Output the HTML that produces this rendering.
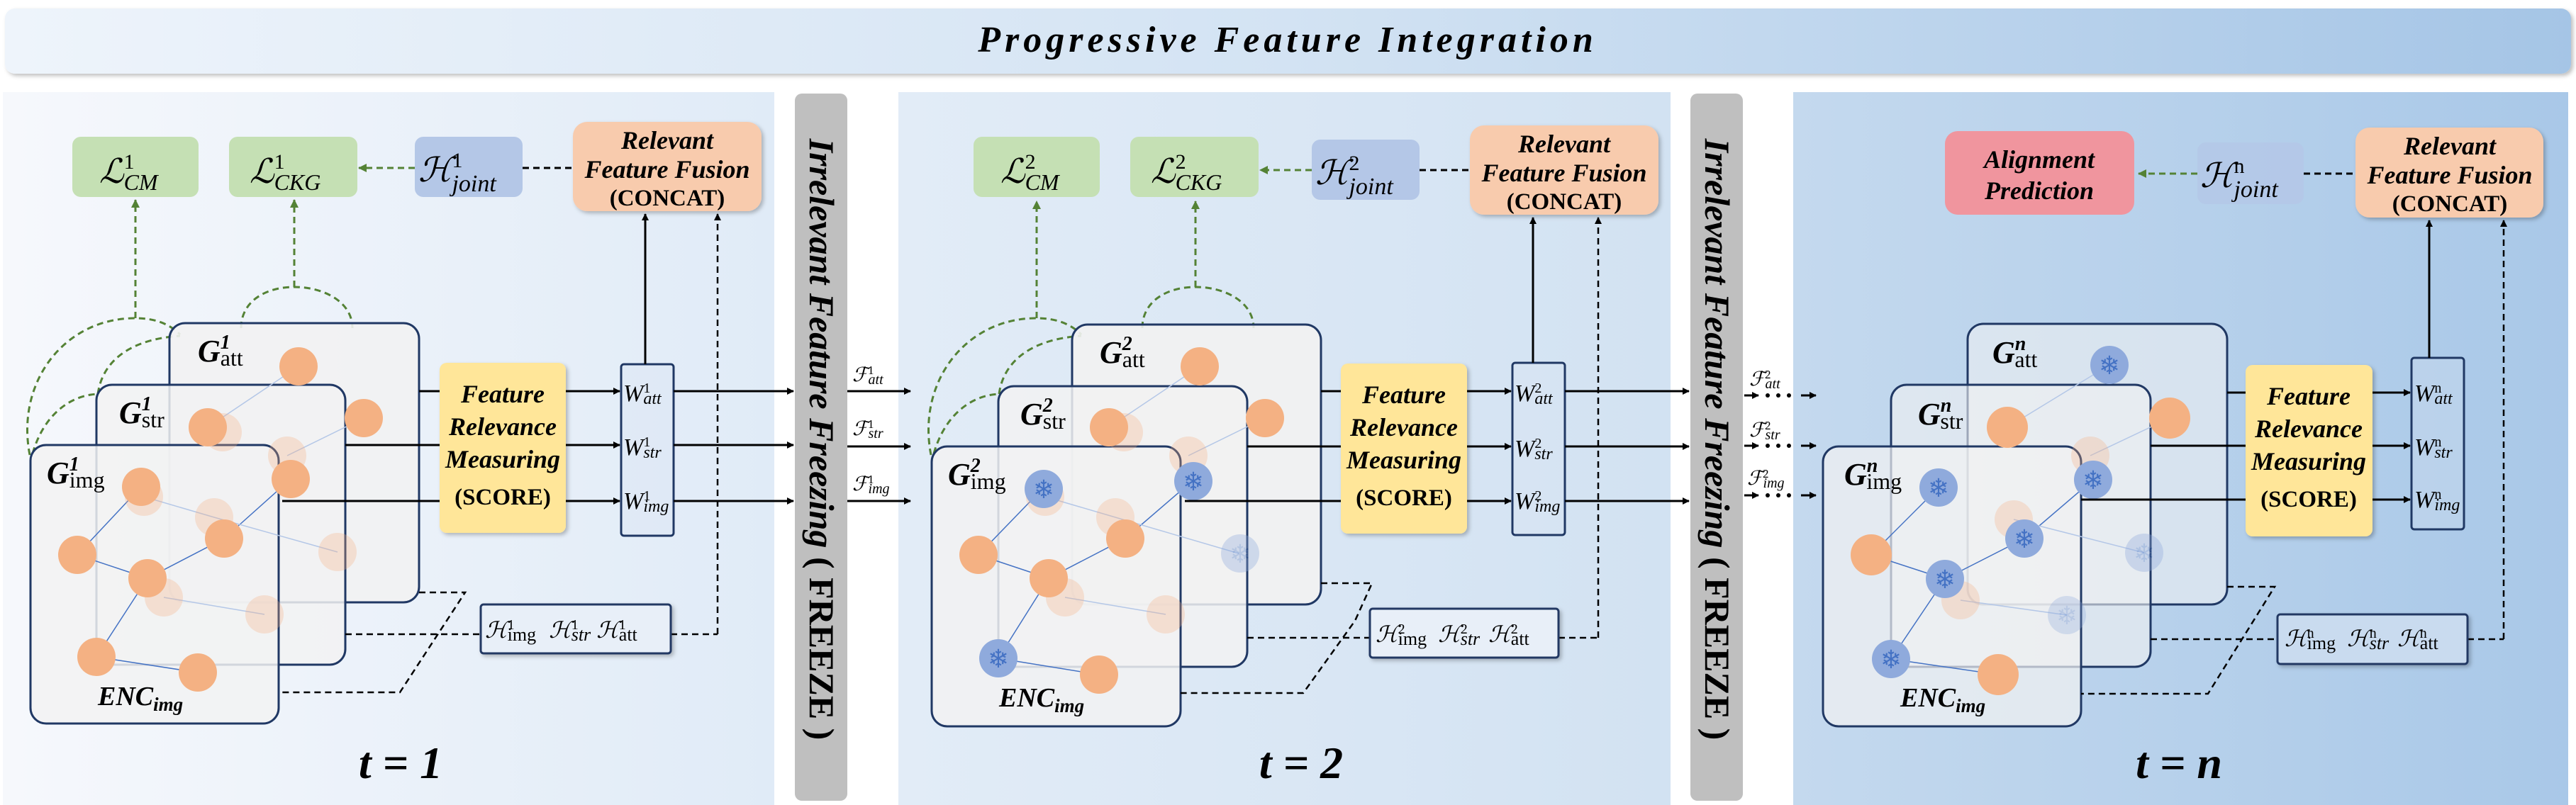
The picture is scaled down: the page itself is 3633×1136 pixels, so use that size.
<!DOCTYPE html>
<html><head><meta charset="utf-8"><style>
html,body{margin:0;padding:0;background:#fff;}
svg{display:block;font-family:"Liberation Serif","DejaVu Serif",serif;}
svg text, svg tspan{font-family:"Liberation Serif","DejaVu Serif",serif;}
.bi{font-weight:bold;font-style:italic;}
.b{font-weight:bold;}
.m{font-style:italic;}
</style></head><body>
<svg width="3633" height="1136" viewBox="0 0 3633 1136" xmlns="http://www.w3.org/2000/svg" font-family="Liberation Serif, DejaVu Serif, serif">
<defs>
<linearGradient id="tg" x1="0" x2="1" y1="0" y2="0"><stop offset="0" stop-color="#eef4fb"/><stop offset="0.5" stop-color="#d3e3f3"/><stop offset="1" stop-color="#a5c5e6"/></linearGradient>
<linearGradient id="p1" x1="0" x2="1"><stop offset="0" stop-color="#f6f8fc"/><stop offset="1" stop-color="#e0ebf7"/></linearGradient>
<linearGradient id="p2" x1="0" x2="1"><stop offset="0" stop-color="#e2ecf7"/><stop offset="1" stop-color="#d2e2f2"/></linearGradient>
<linearGradient id="p3" x1="0" x2="1"><stop offset="0" stop-color="#c4d9ee"/><stop offset="1" stop-color="#a9c8e8"/></linearGradient>
<marker id="ab" markerWidth="10" markerHeight="10" refX="9" refY="5" orient="auto" markerUnits="userSpaceOnUse"><path d="M0,0 L10,5 L0,10 z" fill="#000"/></marker>
<marker id="ag" markerWidth="12" markerHeight="12" refX="11" refY="6" orient="auto" markerUnits="userSpaceOnUse"><path d="M0,0 L12,6 L0,12 z" fill="#548235"/></marker>
<filter id="sh" x="-10%" y="-10%" width="130%" height="130%"><feDropShadow dx="3" dy="3" stdDeviation="3" flood-color="#000" flood-opacity="0.25"/></filter>
<g id="snow"><circle r="27" fill="#8faadc"/><text y="13" text-anchor="middle" font-size="36" fill="#4472c4" style="font-family:'DejaVu Sans',sans-serif">❄</text></g>
</defs>

<rect x="7" y="12" width="3619" height="92" rx="14" fill="url(#tg)" filter="url(#sh)"/>
<text x="1816" y="73" text-anchor="middle" font-size="52" class="bi" letter-spacing="6">Progressive Feature Integration</text>

<rect x="4" y="130" width="1088" height="1006" fill="url(#p1)"/>
<rect x="1267" y="130" width="1089" height="1006" fill="url(#p2)"/>
<rect x="2529" y="130" width="1093" height="1006" fill="url(#p3)"/>

<rect x="1121" y="132" width="74" height="998" rx="10" fill="#bfbfbf"/>
<rect x="2384" y="132" width="74" height="998" rx="10" fill="#bfbfbf"/>
<text transform="translate(1142,620) rotate(90)" text-anchor="middle" font-size="50"><tspan class="bi">Irrelevant Feature Freezing</tspan><tspan class="b"> ( FREEZE )</tspan></text>
<text transform="translate(2405,620) rotate(90)" text-anchor="middle" font-size="50"><tspan class="bi">Irrelevant Feature Freezing</tspan><tspan class="b"> ( FREEZE )</tspan></text>

<!-- PANEL 1 -->
<g>
<rect x="102" y="193" width="178" height="85" rx="12" fill="#c5e0b4"/>
<rect x="323" y="193" width="181" height="85" rx="12" fill="#c5e0b4"/>
<rect x="585" y="193" width="152" height="85" rx="12" fill="#b4c7e7"/>
<rect x="808" y="172" width="266" height="126" rx="20" fill="#f8cbad" filter="url(#sh)"/>
<text x="941" y="210" text-anchor="middle" font-size="36" class="bi">Relevant</text>
<text x="941" y="251" text-anchor="middle" font-size="36" class="bi">Feature Fusion</text>
<text x="941" y="290" text-anchor="middle" font-size="33" class="b">(CONCAT)</text>
<line x1="737" y1="237" x2="808" y2="237" stroke="#000" stroke-width="3" stroke-dasharray="9,6"/>
<line x1="585" y1="237" x2="506" y2="237" stroke="#548235" stroke-width="3" stroke-dasharray="9,6" marker-end="url(#ag)"/>
<line x1="191" y1="449" x2="191" y2="282" stroke="#548235" stroke-width="3" stroke-dasharray="9,6" marker-end="url(#ag)"/>
<line x1="415" y1="405" x2="415" y2="282" stroke="#548235" stroke-width="3" stroke-dasharray="9,6" marker-end="url(#ag)"/>
<g fill="none" stroke="#548235" stroke-width="3" stroke-dasharray="9,6">
<path d="M42,642 C22,540 90,449 191,449 C220,449 240,458 254,472"/>
<path d="M46,640 C60,590 95,558 138,556"/>
<path d="M138,556 C145,505 190,478 254,474"/>
<path d="M340,463 C340,425 375,405 415,405 C455,405 497,425 497,463"/>
</g>
<rect x="239" y="456" width="352" height="394" rx="22" fill="#f2f2f2" fill-opacity="0.9" stroke="#203864" stroke-width="3"/>
<rect x="136" y="543" width="351" height="395" rx="22" fill="#f2f2f2" fill-opacity="0.85" stroke="#203864" stroke-width="3"/>
<rect x="43" y="628" width="350" height="393" rx="22" fill="#f2f2f2" fill-opacity="0.85" stroke="#203864" stroke-width="3"/>
<g stroke="#4472c4" stroke-width="1.5">
<line x1="199" y1="687" x2="109" y2="783"/><line x1="109" y1="783" x2="208" y2="816"/><line x1="208" y1="816" x2="316" y2="760"/><line x1="208" y1="816" x2="136" y2="927"/><line x1="136" y1="927" x2="279" y2="949"/><line x1="316" y1="760" x2="410" y2="676"/>
</g>
<g stroke="#b4c7e7" stroke-width="1.5"><line x1="293" y1="603" x2="421" y2="517"/><line x1="405" y1="643" x2="513" y2="590"/><line x1="231" y1="843" x2="373" y2="867"/><line x1="203" y1="701" x2="302" y2="730"/><line x1="302" y1="730" x2="476" y2="779"/></g>
<g fill="#f4b183" fill-opacity="0.3">
<circle cx="203" cy="701" r="27"/><circle cx="302" cy="730" r="27"/><circle cx="405" cy="643" r="27"/><circle cx="231" cy="843" r="27"/><circle cx="373" cy="867" r="27"/><circle cx="476" cy="779" r="27"/><circle cx="314" cy="610" r="27"/>
</g>
<g fill="#f4b183">
<circle cx="199" cy="687" r="27"/><circle cx="109" cy="783" r="27"/><circle cx="208" cy="816" r="27"/><circle cx="316" cy="760" r="27"/><circle cx="136" cy="927" r="27"/><circle cx="279" cy="949" r="27"/><circle cx="421" cy="517" r="27"/><circle cx="513" cy="590" r="27"/><circle cx="293" cy="603" r="27"/><circle cx="410" cy="676" r="27"/>
</g>
<text x="138" y="995" font-size="38" class="bi">ENC<tspan font-size="27" dy="8">img</tspan></text>
<rect x="620" y="512" width="178" height="240" rx="10" fill="#ffe699" filter="url(#sh)"/>
<text x="709" y="568" text-anchor="middle" font-size="36" class="bi">Feature</text>
<text x="709" y="614" text-anchor="middle" font-size="36" class="bi">Relevance</text>
<text x="709" y="660" text-anchor="middle" font-size="36" class="bi">Measuring</text>
<text x="709" y="712" text-anchor="middle" font-size="33" class="b">(SCORE)</text>
<rect x="876" y="514" width="74" height="242" rx="4" fill="#dae3f3" fill-opacity="0.4" stroke="#203864" stroke-width="3"/>
<g stroke="#000" stroke-width="3">
<line x1="591" y1="552" x2="620" y2="552"/><line x1="487" y1="628" x2="620" y2="628"/><line x1="398" y1="707" x2="620" y2="707"/>
<line x1="798" y1="552" x2="874" y2="552" marker-end="url(#ab)"/><line x1="798" y1="628" x2="874" y2="628" marker-end="url(#ab)"/><line x1="798" y1="707" x2="874" y2="707" marker-end="url(#ab)"/>
<line x1="910" y1="514" x2="910" y2="302" marker-end="url(#ab)"/>
</g>
<g stroke="#000" stroke-width="2.5" fill="none" stroke-dasharray="9,6">
<polyline points="1012,895 1012,302" marker-end="url(#ab)"/>
<line x1="946" y1="895" x2="1012" y2="895"/><line x1="487" y1="895" x2="678" y2="895"/>
<polyline points="591,836 656,836 564,977 393,977"/>
</g>
<rect x="678" y="853" width="268" height="69" rx="4" fill="#e8eff8" stroke="#203864" stroke-width="3" filter="url(#sh)"/>
</g>
<g stroke="#000" stroke-width="3">
<line x1="950" y1="552" x2="1119" y2="552" marker-end="url(#ab)"/><line x1="950" y1="628" x2="1119" y2="628" marker-end="url(#ab)"/><line x1="950" y1="707" x2="1119" y2="707" marker-end="url(#ab)"/>
</g>
<text x="140" y="258" font-size="48" class="m">ℒ<tspan font-size="30" dy="-20" style="font-style:normal">1</tspan><tspan font-size="32" dx="-15" dy="30">CM</tspan></text>
<text x="352" y="258" font-size="48" class="m">ℒ<tspan font-size="30" dy="-20" style="font-style:normal">1</tspan><tspan font-size="32" dx="-15" dy="30">CKG</tspan></text>
<text x="590" y="256" font-size="48" class="m">ℋ<tspan font-size="30" dy="-20" style="font-style:normal">1</tspan><tspan font-size="34" dx="-15" dy="34">joint</tspan></text>
<text x="66" y="682" font-size="44" class="bi">G<tspan font-size="28" dy="-18">1</tspan><tspan font-size="32" style="font-style:normal;font-weight:normal" dx="-14" dy="24">img</tspan></text>
<text x="168" y="597" font-size="44" class="bi">G<tspan font-size="28" dy="-18">1</tspan><tspan font-size="32" style="font-style:normal;font-weight:normal" dx="-14" dy="24">str</tspan></text>
<text x="279" y="510" font-size="44" class="bi">G<tspan font-size="28" dy="-18">1</tspan><tspan font-size="32" style="font-style:normal;font-weight:normal" dx="-14" dy="24">att</tspan></text>
<text x="879" y="566" font-size="34" class="m">W<tspan font-size="20" dy="-12" style="font-style:normal">1</tspan><tspan font-size="24" dx="-10" dy="16">att</tspan></text>
<text x="879" y="642" font-size="34" class="m">W<tspan font-size="20" dy="-12" style="font-style:normal">1</tspan><tspan font-size="24" dx="-10" dy="16">str</tspan></text>
<text x="879" y="718" font-size="34" class="m">W<tspan font-size="20" dy="-12" style="font-style:normal">1</tspan><tspan font-size="24" dx="-10" dy="16">img</tspan></text>
<text x="684" y="900" font-size="32" class="m">ℋ<tspan font-size="20" dy="-12" style="font-style:normal">1</tspan><tspan font-size="26" style="font-style:normal" dx="-10" dy="16">img</tspan><tspan dx="18" dy="-4">ℋ</tspan><tspan font-size="20" dy="-12" style="font-style:normal">1</tspan><tspan font-size="26" dx="-10" dy="16">str</tspan><tspan dx="8" dy="-4">ℋ</tspan><tspan font-size="20" dy="-12" style="font-style:normal">1</tspan><tspan font-size="26" style="font-style:normal" dx="-10" dy="16">att</tspan></text>
<text x="565" y="1098" text-anchor="middle" font-size="64" class="bi">t = 1</text>

<!-- PANEL 2 -->
<g transform="translate(1271,0)">
<rect x="102" y="193" width="178" height="85" rx="12" fill="#c5e0b4"/>
<rect x="323" y="193" width="181" height="85" rx="12" fill="#c5e0b4"/>
<rect x="579" y="197" width="152" height="85" rx="12" fill="#b4c7e7"/>
<rect x="802" y="177" width="266" height="126" rx="20" fill="#f8cbad" filter="url(#sh)"/>
<text x="935" y="215" text-anchor="middle" font-size="36" class="bi">Relevant</text>
<text x="935" y="256" text-anchor="middle" font-size="36" class="bi">Feature Fusion</text>
<text x="935" y="295" text-anchor="middle" font-size="33" class="b">(CONCAT)</text>
<line x1="731" y1="240" x2="802" y2="240" stroke="#000" stroke-width="3" stroke-dasharray="9,6"/>
<line x1="579" y1="240" x2="506" y2="240" stroke="#548235" stroke-width="3" stroke-dasharray="9,6" marker-end="url(#ag)"/>
<line x1="191" y1="449" x2="191" y2="284" stroke="#548235" stroke-width="3" stroke-dasharray="9,6" marker-end="url(#ag)"/>
<line x1="415" y1="405" x2="415" y2="284" stroke="#548235" stroke-width="3" stroke-dasharray="9,6" marker-end="url(#ag)"/>
<g fill="none" stroke="#548235" stroke-width="3" stroke-dasharray="9,6">
<path d="M42,642 C22,540 90,449 191,449 C220,449 240,458 254,472"/>
<path d="M46,640 C60,590 95,558 138,556"/>
<path d="M138,556 C145,505 190,478 254,474"/>
<path d="M340,463 C340,425 375,405 415,405 C455,405 497,425 497,463"/>
</g>
<rect x="241" y="458" width="351" height="395" rx="22" fill="#f2f2f2" fill-opacity="0.9" stroke="#203864" stroke-width="3"/>
<rect x="137" y="545" width="351" height="396" rx="22" fill="#f2f2f2" fill-opacity="0.85" stroke="#203864" stroke-width="3"/>
<rect x="43" y="630" width="351" height="395" rx="22" fill="#f2f2f2" fill-opacity="0.85" stroke="#203864" stroke-width="3"/>
<g stroke="#4472c4" stroke-width="1.5">
<line x1="199" y1="690" x2="109" y2="783"/><line x1="109" y1="783" x2="208" y2="816"/><line x1="208" y1="816" x2="316" y2="760"/><line x1="208" y1="816" x2="137" y2="929"/><line x1="137" y1="929" x2="279" y2="952"/><line x1="316" y1="760" x2="410" y2="679"/>
</g>
<g stroke="#b4c7e7" stroke-width="1.5"><line x1="293" y1="603" x2="421" y2="517"/><line x1="405" y1="643" x2="513" y2="590"/><line x1="231" y1="843" x2="373" y2="867"/><line x1="203" y1="701" x2="302" y2="730"/><line x1="302" y1="730" x2="476" y2="781"/></g>
<g fill="#f4b183" fill-opacity="0.3">
<circle cx="203" cy="701" r="27"/><circle cx="302" cy="730" r="27"/><circle cx="405" cy="643" r="27"/><circle cx="231" cy="843" r="27"/><circle cx="373" cy="867" r="27"/><circle cx="314" cy="610" r="27"/>
</g>
<g fill="#f4b183">
<circle cx="109" cy="783" r="27"/><circle cx="208" cy="816" r="27"/><circle cx="316" cy="760" r="27"/><circle cx="279" cy="952" r="27"/><circle cx="421" cy="517" r="27"/><circle cx="513" cy="590" r="27"/><circle cx="293" cy="603" r="27"/>
</g>
<use href="#snow" x="201" y="690"/><use href="#snow" x="412" y="679"/><use href="#snow" x="137" y="929"/><use href="#snow" x="478" y="781" opacity="0.35"/>
<text x="138" y="997" font-size="38" class="bi">ENC<tspan font-size="27" dy="8">img</tspan></text>
<rect x="620" y="513" width="178" height="240" rx="10" fill="#ffe699" filter="url(#sh)"/>
<text x="709" y="569" text-anchor="middle" font-size="36" class="bi">Feature</text>
<text x="709" y="615" text-anchor="middle" font-size="36" class="bi">Relevance</text>
<text x="709" y="661" text-anchor="middle" font-size="36" class="bi">Measuring</text>
<text x="709" y="713" text-anchor="middle" font-size="33" class="b">(SCORE)</text>
<rect x="862" y="512" width="74" height="243" rx="4" fill="#dae3f3" fill-opacity="0.4" stroke="#203864" stroke-width="3"/>
<g stroke="#000" stroke-width="3">
<line x1="592" y1="552" x2="620" y2="552"/><line x1="488" y1="630" x2="620" y2="630"/><line x1="400" y1="707" x2="620" y2="707"/>
<line x1="798" y1="552" x2="860" y2="552" marker-end="url(#ab)"/><line x1="798" y1="630" x2="860" y2="630" marker-end="url(#ab)"/><line x1="798" y1="707" x2="860" y2="707" marker-end="url(#ab)"/>
<line x1="891" y1="512" x2="891" y2="307" marker-end="url(#ab)"/>
<line x1="936" y1="552" x2="1111" y2="552" marker-end="url(#ab)"/><line x1="936" y1="630" x2="1111" y2="630" marker-end="url(#ab)"/><line x1="936" y1="707" x2="1111" y2="707" marker-end="url(#ab)"/>
</g>
<g stroke="#000" stroke-width="2.5" fill="none" stroke-dasharray="9,6">
<polyline points="983,900 983,307" marker-end="url(#ab)"/>
<line x1="927" y1="900" x2="983" y2="900"/><line x1="488" y1="900" x2="661" y2="900"/>
<polyline points="592,823 664,823 640,876 567,978 394,978"/>
</g>
<rect x="661" y="859" width="266" height="69" rx="4" fill="#e8eff8" stroke="#203864" stroke-width="3" filter="url(#sh)"/>
</g>
<g stroke="#000" stroke-width="3">
<line x1="1195" y1="552" x2="1284" y2="552" marker-end="url(#ab)"/><line x1="1195" y1="630" x2="1284" y2="630" marker-end="url(#ab)"/><line x1="1195" y1="707" x2="1284" y2="707" marker-end="url(#ab)"/>
</g>
<text x="1202" y="538" font-size="28" class="m">ℱ<tspan font-size="17" dy="-10" style="font-style:normal">1</tspan><tspan font-size="20" dx="-8" dy="14">att</tspan></text>
<text x="1202" y="614" font-size="28" class="m">ℱ<tspan font-size="17" dy="-10" style="font-style:normal">1</tspan><tspan font-size="20" dx="-8" dy="14">str</tspan></text>
<text x="1202" y="692" font-size="28" class="m">ℱ<tspan font-size="17" dy="-10" style="font-style:normal">1</tspan><tspan font-size="20" dx="-8" dy="14">img</tspan></text>
<text x="1411" y="258" font-size="48" class="m">ℒ<tspan font-size="30" dy="-20" style="font-style:normal">2</tspan><tspan font-size="32" dx="-15" dy="30">CM</tspan></text>
<text x="1623" y="258" font-size="48" class="m">ℒ<tspan font-size="30" dy="-20" style="font-style:normal">2</tspan><tspan font-size="32" dx="-15" dy="30">CKG</tspan></text>
<text x="1855" y="260" font-size="48" class="m">ℋ<tspan font-size="30" dy="-20" style="font-style:normal">2</tspan><tspan font-size="34" dx="-15" dy="34">joint</tspan></text>
<text x="1337" y="684" font-size="44" class="bi">G<tspan font-size="28" dy="-18">2</tspan><tspan font-size="32" style="font-style:normal;font-weight:normal" dx="-14" dy="24">img</tspan></text>
<text x="1439" y="599" font-size="44" class="bi">G<tspan font-size="28" dy="-18">2</tspan><tspan font-size="32" style="font-style:normal;font-weight:normal" dx="-14" dy="24">str</tspan></text>
<text x="1551" y="512" font-size="44" class="bi">G<tspan font-size="28" dy="-18">2</tspan><tspan font-size="32" style="font-style:normal;font-weight:normal" dx="-14" dy="24">att</tspan></text>
<text x="2136" y="566" font-size="34" class="m">W<tspan font-size="20" dy="-12" style="font-style:normal">2</tspan><tspan font-size="24" dx="-10" dy="16">att</tspan></text>
<text x="2136" y="644" font-size="34" class="m">W<tspan font-size="20" dy="-12" style="font-style:normal">2</tspan><tspan font-size="24" dx="-10" dy="16">str</tspan></text>
<text x="2136" y="718" font-size="34" class="m">W<tspan font-size="20" dy="-12" style="font-style:normal">2</tspan><tspan font-size="24" dx="-10" dy="16">img</tspan></text>
<text x="1940" y="906" font-size="32" class="m">ℋ<tspan font-size="20" dy="-12" style="font-style:normal">2</tspan><tspan font-size="26" style="font-style:normal" dx="-10" dy="16">img</tspan><tspan dx="16" dy="-4">ℋ</tspan><tspan font-size="20" dy="-12" style="font-style:normal">2</tspan><tspan font-size="26" dx="-10" dy="16">str</tspan><tspan dx="12" dy="-4">ℋ</tspan><tspan font-size="20" dy="-12" style="font-style:normal">2</tspan><tspan font-size="26" style="font-style:normal" dx="-10" dy="16">att</tspan></text>
<text x="1835" y="1098" text-anchor="middle" font-size="64" class="bi">t = 2</text>

<!-- PANEL 3 -->
<rect x="2743" y="185" width="267" height="118" rx="18" fill="#f0959e"/>
<text x="2876" y="237" text-anchor="middle" font-size="36" class="bi">Alignment</text>
<text x="2876" y="281" text-anchor="middle" font-size="36" class="bi">Prediction</text>
<rect x="3099" y="201" width="150" height="87" rx="12" fill="#b4c7e7" fill-opacity="0.8"/>
<rect x="3322" y="180" width="265" height="127" rx="20" fill="#f8cbad" filter="url(#sh)"/>
<text x="3455" y="218" text-anchor="middle" font-size="36" class="bi">Relevant</text>
<text x="3455" y="259" text-anchor="middle" font-size="36" class="bi">Feature Fusion</text>
<text x="3455" y="298" text-anchor="middle" font-size="33" class="b">(CONCAT)</text>
<line x1="3249" y1="245" x2="3322" y2="245" stroke="#000" stroke-width="3" stroke-dasharray="9,6"/>
<line x1="3099" y1="245" x2="3016" y2="245" stroke="#548235" stroke-width="3" stroke-dasharray="9,6" marker-end="url(#ag)"/>
<text x="3103" y="264" font-size="48" class="m">ℋ<tspan font-size="30" dy="-20" style="font-style:normal">n</tspan><tspan font-size="34" dx="-15" dy="34">joint</tspan></text>
<rect x="2775" y="457" width="366" height="396" rx="22" fill="#f2f2f2" fill-opacity="0.55" stroke="#203864" stroke-width="3"/>
<rect x="2667" y="543" width="366" height="398" rx="22" fill="#f2f2f2" fill-opacity="0.6" stroke="#203864" stroke-width="3"/>
<rect x="2571" y="630" width="364" height="395" rx="22" fill="#f2f2f2" fill-opacity="0.7" stroke="#203864" stroke-width="3"/>
<g stroke="#4472c4" stroke-width="1.5">
<line x1="2734" y1="688" x2="2639" y2="783"/><line x1="2639" y1="783" x2="2743" y2="817"/><line x1="2743" y1="817" x2="2855" y2="760"/><line x1="2743" y1="817" x2="2667" y2="930"/><line x1="2667" y1="930" x2="2818" y2="952"/><line x1="2855" y1="760" x2="2952" y2="677"/>
</g>
<g stroke="#b4c7e7" stroke-width="1.5"><line x1="2831" y1="603" x2="2975" y2="515"/><line x1="2948" y1="643" x2="3060" y2="590"/><line x1="2765" y1="847" x2="2915" y2="868"/><line x1="2840" y1="733" x2="3024" y2="780"/></g>
<g fill="#f4b183" fill-opacity="0.3"><circle cx="2948" cy="643" r="27"/><circle cx="2840" cy="733" r="27"/><circle cx="2765" cy="847" r="27"/></g>
<g fill="#f4b183"><circle cx="2639" cy="783" r="29"/><circle cx="2831" cy="603" r="29"/><circle cx="3060" cy="590" r="29"/><circle cx="2818" cy="952" r="29"/></g>
<use href="#snow" x="2734" y="688"/><use href="#snow" x="2975" y="515"/><use href="#snow" x="2952" y="677"/><use href="#snow" x="2855" y="760"/><use href="#snow" x="2743" y="817"/><use href="#snow" x="2667" y="930"/><use href="#snow" x="3024" y="780" opacity="0.35"/><use href="#snow" x="2915" y="868" opacity="0.3"/>
<text x="2680" y="997" font-size="38" class="bi">ENC<tspan font-size="27" dy="8">img</tspan></text>
<text x="2601" y="684" font-size="44" class="bi">G<tspan font-size="28" dy="-18">n</tspan><tspan font-size="32" style="font-style:normal;font-weight:normal" dx="-16" dy="24">img</tspan></text>
<text x="2705" y="599" font-size="44" class="bi">G<tspan font-size="28" dy="-18">n</tspan><tspan font-size="32" style="font-style:normal;font-weight:normal" dx="-16" dy="24">str</tspan></text>
<text x="2810" y="512" font-size="44" class="bi">G<tspan font-size="28" dy="-18">n</tspan><tspan font-size="32" style="font-style:normal;font-weight:normal" dx="-16" dy="24">att</tspan></text>
<rect x="3167" y="515" width="179" height="242" rx="10" fill="#ffe699" filter="url(#sh)"/>
<text x="3256" y="571" text-anchor="middle" font-size="36" class="bi">Feature</text>
<text x="3256" y="617" text-anchor="middle" font-size="36" class="bi">Relevance</text>
<text x="3256" y="663" text-anchor="middle" font-size="36" class="bi">Measuring</text>
<text x="3256" y="715" text-anchor="middle" font-size="33" class="b">(SCORE)</text>
<rect x="3401" y="505" width="74" height="242" rx="4" fill="#dae3f3" fill-opacity="0.3" stroke="#203864" stroke-width="3"/>
<g stroke="#000" stroke-width="3">
<line x1="3141" y1="554" x2="3167" y2="554"/><line x1="3033" y1="629" x2="3167" y2="629"/><line x1="2935" y1="705" x2="3167" y2="705"/>
<line x1="3346" y1="554" x2="3399" y2="554" marker-end="url(#ab)"/><line x1="3346" y1="629" x2="3399" y2="629" marker-end="url(#ab)"/><line x1="3346" y1="705" x2="3399" y2="705" marker-end="url(#ab)"/>
<line x1="3426" y1="505" x2="3426" y2="311" marker-end="url(#ab)"/>
</g>
<g stroke="#000" stroke-width="2.5" fill="none" stroke-dasharray="9,6">
<polyline points="3531,902 3531,311" marker-end="url(#ab)"/>
<line x1="3480" y1="902" x2="3531" y2="902"/><line x1="3033" y1="902" x2="3212" y2="902"/>
<polyline points="3141,828 3208,828 3114,979 2935,979"/>
</g>
<rect x="3212" y="867" width="268" height="70" rx="4" fill="#c9dbef" stroke="#203864" stroke-width="3" filter="url(#sh)"/>
<text x="3222" y="912" font-size="32" class="m">ℋ<tspan font-size="20" dy="-12" style="font-style:normal">n</tspan><tspan font-size="26" style="font-style:normal" dx="-10" dy="16">img</tspan><tspan dx="16" dy="-4">ℋ</tspan><tspan font-size="20" dy="-12" style="font-style:normal">n</tspan><tspan font-size="26" dx="-10" dy="16">str</tspan><tspan dx="12" dy="-4">ℋ</tspan><tspan font-size="20" dy="-12" style="font-style:normal">n</tspan><tspan font-size="26" style="font-style:normal" dx="-10" dy="16">att</tspan></text>
<text x="3405" y="566" font-size="34" class="m">W<tspan font-size="20" dy="-12" style="font-style:normal">n</tspan><tspan font-size="24" dx="-10" dy="16">att</tspan></text>
<text x="3405" y="642" font-size="34" class="m">W<tspan font-size="20" dy="-12" style="font-style:normal">n</tspan><tspan font-size="24" dx="-10" dy="16">str</tspan></text>
<text x="3405" y="716" font-size="34" class="m">W<tspan font-size="20" dy="-12" style="font-style:normal">n</tspan><tspan font-size="24" dx="-10" dy="16">img</tspan></text>
<g stroke="#000" stroke-width="3">
<line x1="2460" y1="558" x2="2480" y2="558" marker-end="url(#ab)"/><line x1="2540" y1="558" x2="2561" y2="558" marker-end="url(#ab)"/>
<line x1="2460" y1="629" x2="2480" y2="629" marker-end="url(#ab)"/><line x1="2540" y1="629" x2="2561" y2="629" marker-end="url(#ab)"/>
<line x1="2460" y1="699" x2="2480" y2="699" marker-end="url(#ab)"/><line x1="2540" y1="699" x2="2561" y2="699" marker-end="url(#ab)"/>
</g>
<g fill="#000"><circle cx="2493" cy="558" r="3"/><circle cx="2508" cy="558" r="3"/><circle cx="2523" cy="558" r="3"/><circle cx="2493" cy="629" r="3"/><circle cx="2508" cy="629" r="3"/><circle cx="2523" cy="629" r="3"/><circle cx="2493" cy="699" r="3"/><circle cx="2508" cy="699" r="3"/><circle cx="2523" cy="699" r="3"/></g>
<text x="2467" y="544" font-size="28" class="m">ℱ<tspan font-size="17" dy="-10" style="font-style:normal">2</tspan><tspan font-size="20" dx="-8" dy="14">att</tspan></text>
<text x="2467" y="616" font-size="28" class="m">ℱ<tspan font-size="17" dy="-10" style="font-style:normal">2</tspan><tspan font-size="20" dx="-8" dy="14">str</tspan></text>
<text x="2464" y="684" font-size="28" class="m">ℱ<tspan font-size="17" dy="-10" style="font-style:normal">2</tspan><tspan font-size="20" dx="-8" dy="14">img</tspan></text>
<text x="3073" y="1098" text-anchor="middle" font-size="64" class="bi">t = n</text>
</svg>
</body></html>
